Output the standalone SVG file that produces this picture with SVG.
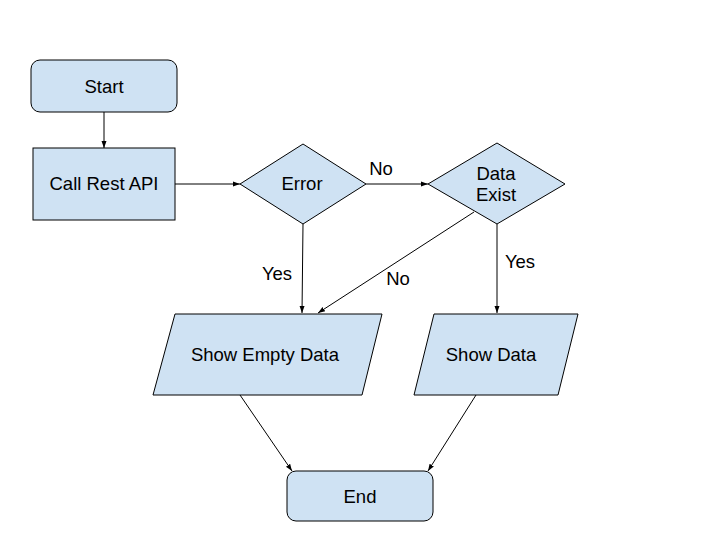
<svg xmlns="http://www.w3.org/2000/svg" width="720" height="540" viewBox="0 0 720 540">
<style>
.n{fill:#cfe2f3;stroke:#000;stroke-width:1}
.t{font-family:"Liberation Sans",Arial,sans-serif;font-size:18.5px;fill:#000;text-anchor:middle}
.c{stroke:#000;stroke-width:1;fill:none;marker-end:url(#a)}
</style>
<defs>
<marker id="a" markerWidth="8" markerHeight="8" refX="7" refY="4" orient="auto" markerUnits="userSpaceOnUse">
<path d="M0,1.5 L7,4 L0,6.5 Z" fill="#000"/>
</marker>
</defs>
<rect width="720" height="540" fill="#fff"/>
<g id="connectors">
<line class="c" x1="104" y1="112" x2="104" y2="148"/>
<line class="c" x1="175" y1="184" x2="240" y2="184"/>
<line class="c" x1="366" y1="184" x2="428" y2="184"/>
<line class="c" x1="303" y1="224" x2="302" y2="313"/>
<line class="c" x1="474" y1="212" x2="318" y2="313"/>
<line class="c" x1="497" y1="224" x2="497" y2="313"/>
<line class="c" x1="240" y1="395" x2="292" y2="471"/>
<line class="c" x1="476" y1="395" x2="428" y2="471"/>
<text class="t" x="381" y="175">No</text>
<text class="t" x="277" y="280">Yes</text>
<text class="t" x="398" y="285">No</text>
<text class="t" x="520" y="268">Yes</text>
</g>
<g id="start">
<rect class="n" x="31" y="60" width="146" height="52" rx="9"/>
<text class="t" x="104" y="93">Start</text>
</g>
<g id="call">
<rect class="n" x="33" y="148" width="142" height="72"/>
<text class="t" x="104" y="190">Call Rest API</text>
</g>
<g id="error">
<polygon class="n" points="240,184 303,144 366,184 303,224"/>
<text class="t" x="302" y="190">Error</text>
</g>
<g id="dataexist">
<polygon class="n" points="428,184 497,143 565,184 497,224"/>
<text class="t" x="496" y="180">Data</text>
<text class="t" x="496" y="201">Exist</text>
</g>
<g id="showempty">
<polygon class="n" points="175,314 382,314 362,395 153,395"/>
<text class="t" x="265" y="361">Show Empty Data</text>
</g>
<g id="showdata">
<polygon class="n" points="434,314 578,314 558,395 414,395"/>
<text class="t" x="491" y="361">Show Data</text>
</g>
<g id="end">
<rect class="n" x="287" y="471" width="146" height="50" rx="9"/>
<text class="t" x="360" y="503">End</text>
</g>
</svg>
